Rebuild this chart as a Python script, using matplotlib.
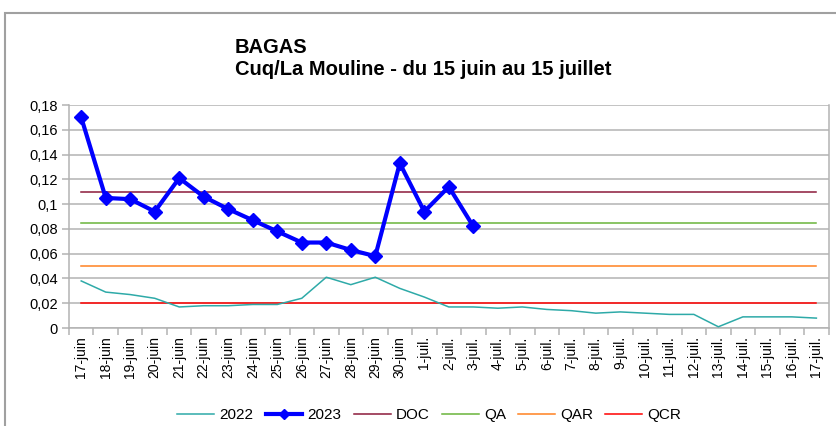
import numpy as np
import matplotlib.pyplot as plt
from matplotlib.patches import Rectangle
from matplotlib.ticker import FuncFormatter, MultipleLocator

days = ['17-juin', '18-juin', '19-juin', '20-juin', '21-juin', '22-juin', '23-juin',
        '24-juin', '25-juin', '26-juin', '27-juin', '28-juin', '29-juin', '30-juin',
        '1-juil.', '2-juil.', '3-juil.', '4-juil.', '5-juil.', '6-juil.', '7-juil.',
        '8-juil.', '9-juil.', '10-juil.', '11-juil.', '12-juil.', '13-juil.', '14-juil.',
        '15-juil.', '16-juil.', '17-juil.']

v2022 = [0.038, 0.029, 0.027, 0.024, 0.017, 0.018, 0.018, 0.019, 0.019, 0.024,
         0.041, 0.035, 0.041, 0.032, 0.025, 0.017, 0.017, 0.016, 0.017, 0.015,
         0.014, 0.012, 0.013, 0.012, 0.011, 0.011, 0.001, 0.009, 0.009, 0.009, 0.008]
v2023 = [0.170, 0.105, 0.104, 0.094, 0.121, 0.106, 0.096, 0.087, 0.078, 0.069,
         0.069, 0.063, 0.058, 0.133, 0.094, 0.114, 0.082]

doc = 0.11
qa = 0.085
qar = 0.05
qcr = 0.02

plt.rcParams['font.family'] = ['Liberation Sans', 'DejaVu Sans']

fig = plt.figure(figsize=(8.37, 4.26), dpi=100)
ax = fig.add_axes([0.0824, 0.230, 0.9076, 0.5235])

x = np.arange(len(days))
n = len(days)
ax.plot(x, v2022, color='#2eaaa8', lw=1.1, label='2022', zorder=3)
ax.plot(x[:len(v2023)], v2023, color='#0000ff', lw=3, marker='D', ms=7,
        label='2023', zorder=5)
ax.plot(x, [doc] * n, color='#8b1a3a', lw=1.1, label='DOC', zorder=2)
ax.plot(x, [qa] * n, color='#6ab43a', lw=1.1, label='QA', zorder=2)
ax.plot(x, [qar] * n, color='#ff8120', lw=1.1, label='QAR', zorder=2)
ax.plot(x, [qcr] * n, color='#ff0000', lw=1.1, label='QCR', zorder=2)

ax.set_xlim(-0.5, n - 0.5)
ax.set_ylim(0, 0.18)
ax.yaxis.set_major_locator(MultipleLocator(0.02))
ax.yaxis.set_major_formatter(FuncFormatter(lambda v, p: f'{round(v, 2):g}'.replace('.', ',')))
ax.grid(axis='y', color='#b3b3b3', lw=1.1)
ax.set_axisbelow(True)

ax.set_xticks(x)
ax.set_xticklabels(days, rotation=90, fontsize=10)
ax.set_xticks(np.arange(-0.5, n), minor=True)
ax.tick_params(axis='x', which='major', length=0, pad=6)
ax.tick_params(axis='x', which='minor', length=5, color='#b3b3b3', width=1.1)
ax.tick_params(axis='y', length=5, color='#b3b3b3', width=1.1, labelsize=10.5, pad=3)
for s in ['left', 'bottom', 'right']:
    ax.spines[s].set_color('#b3b3b3')
    ax.spines[s].set_linewidth(1.1)
ax.spines['top'].set_visible(False)

fig.text(0.2808, 0.8756, 'BAGAS', fontsize=14.5, fontweight='bold',
         ha='left', va='baseline')
fig.text(0.2808, 0.8240, 'Cuq/La Mouline - du 15 juin au 15 juillet', fontsize=14.5,
         fontweight='bold', ha='left', va='baseline')

fig.legend(loc='center', bbox_to_anchor=(0.513, 0.026), ncol=6, frameon=False,
           fontsize=11, handlelength=2.4, columnspacing=0.8, handletextpad=0.35,
           markerscale=0.7)

fig.patches.append(Rectangle((0.006, -0.1), 1.2, 1.07, transform=fig.transFigure,
                             fill=False, edgecolor='#a0a0a0', lw=1.5))

fig.savefig('out.png', dpi=100)
